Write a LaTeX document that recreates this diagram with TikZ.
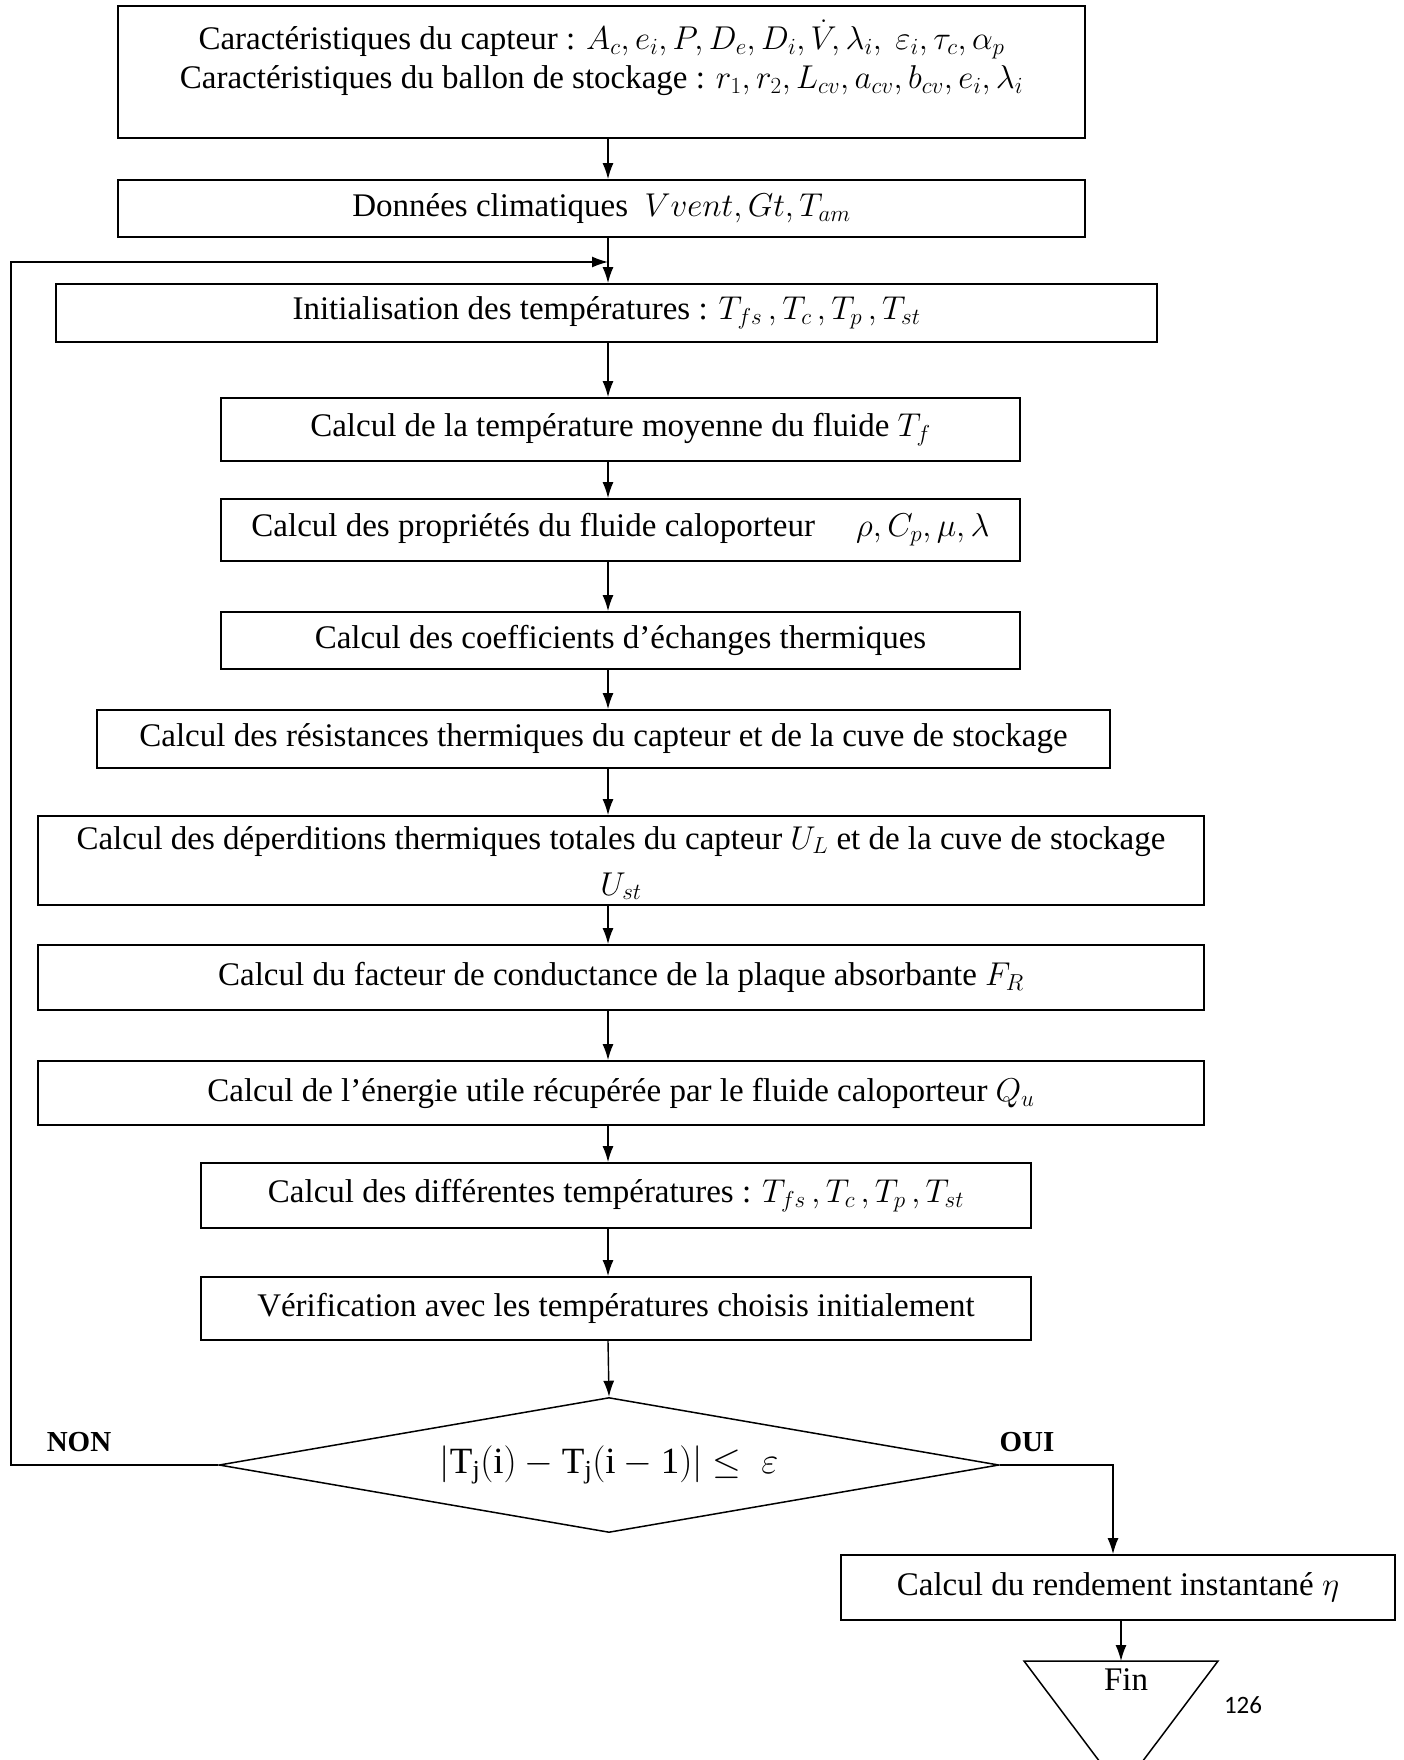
\documentclass[tikz,border=0pt]{standalone}
\usepackage{fix-cm}
\usepackage{fontspec}
\setmainfont{Liberation Serif}
\newfontfamily\pagenumfont{Carlito}
\usetikzlibrary{arrows.meta,shapes.geometric}
\newcommand\myfs{\fontsize{33}{39}\selectfont}
\newcommand\mylblfs{\fontsize{29}{36}\selectfont}
\begin{document}
\begin{tikzpicture}[x=1pt,y=-1pt,
  box/.style={draw, line width=1.8pt, inner sep=0pt, align=center, font=\myfs},
  txt/.style={inner sep=0pt, align=center, font=\myfs},
  arr/.style={-{Latex[length=16pt,width=11pt]}, line width=1.4pt},
  lbl/.style={font=\mylblfs\bfseries, inner sep=0pt}]
\useasboundingbox (0,0) rectangle (1403,1760);
\coordinate (ax) at (608,0);
% boxes
\node[box, minimum width=967, minimum height=132] (b1) at (601.5,72) {};
\node[txt] (b1t) at (601.5,58)
  {Caractéristiques du capteur : $A_c, e_i, P, D_e, D_i, \dot{V}\!, \lambda_i,\ \varepsilon_i, \tau_c, \alpha_p$\\
   Caractéristiques du ballon de stockage : $r_1, r_2, L_{cv}, a_{cv}, b_{cv}, e_i, \lambda_i$};
\node[box, minimum width=967, minimum height=57] (b2) at (601.5,208.5)
  {Données climatiques \ $Vvent, Gt, T_{am}$};
\node[box, minimum width=1101, minimum height=58] (b3) at (606.5,313)
  {Initialisation des températures : $T_{fs}\,, T_c\,, T_p\,, T_{st}$};
\node[box, minimum width=799, minimum height=63] (b4) at (620.5,429.5)
  {Calcul de la température moyenne du fluide $T_f$};
\node[box, minimum width=799, minimum height=62] (b5) at (620.5,530)
  {Calcul des propriétés du fluide caloporteur \quad$\rho, C_p, \mu, \lambda$};
\node[box, minimum width=799, minimum height=57] (b6) at (620.5,640.5)
  {Calcul des coefficients d’échanges thermiques};
\node[box, minimum width=1013, minimum height=58] (b7) at (603.5,739)
  {Calcul des résistances thermiques du capteur et de la cuve de stockage};
\node[box, minimum width=1166, minimum height=89] (b8) at (621,860.5) {};
\node[txt] (b8t) at (621,863)
  {Calcul des déperditions thermiques totales du capteur $U_L$ et de la cuve de stockage\\[7pt] $U_{st}$};
\node[box, minimum width=1166, minimum height=65] (b9) at (621,977.5)
  {Calcul du facteur de conductance de la plaque absorbante $F_R$};
\node[box, minimum width=1166, minimum height=64] (b10) at (621,1093)
  {Calcul de l’énergie utile récupérée par le fluide caloporteur $Q_u$};
\node[box, minimum width=830, minimum height=65] (b11) at (616,1195.5)
  {Calcul des différentes températures : $T_{fs}\,, T_c\,, T_p\,, T_{st}$};
\node[box, minimum width=830, minimum height=63] (b12) at (616,1308.5)
  {Vérification avec les températures choisis initialement};
\node[draw, diamond, line width=1.5pt, inner sep=0pt, aspect=5.8,
      minimum width=780, minimum height=135, font=\fontsize{37}{44}\selectfont] (dia) at (609,1465)
  {$\bigl|\mathrm{T_j(i)} - \mathrm{T_j(i-1)}\bigr| \leq\ \mathrm{\varepsilon}$};
\node[box, minimum width=554, minimum height=65] (b13) at (1118,1587.5)
  {Calcul du rendement instantané $\eta$};
% end triangle
\coordinate (t1) at (1024,1661);
\coordinate (t2) at (1218,1661);
\coordinate (t3) at (1121,1790);
\draw[line width=1.5pt] (t1) -- (t2) -- (t3) -- cycle;
\node[font=\myfs, inner sep=0pt] (fin) at (1126,1680) {Fin};
\node[font=\pagenumfont\fontsize{25}{30}\selectfont, inner sep=0pt] (pg) at (1243,1705) {126};
% labels
\node[lbl] (non) at (79,1442) {NON};
\node[lbl] (oui) at (1027,1442) {OUI};
% connectors
\draw[arr] (b1.south -| ax) -- (b2.north -| ax);
\draw[arr] (b2.south -| ax) -- (b3.north -| ax);
\draw[arr] (b3.south -| ax) -- (b4.north -| ax);
\draw[arr] (b4.south -| ax) -- (b5.north -| ax);
\draw[arr] (b5.south -| ax) -- (b6.north -| ax);
\draw[arr] (b6.south -| ax) -- (b7.north -| ax);
\draw[arr] (b7.south -| ax) -- (b8.north -| ax);
\draw[arr] (b8.south -| ax) -- (b9.north -| ax);
\draw[arr] (b9.south -| ax) -- (b10.north -| ax);
\draw[arr] (b10.south -| ax) -- (b11.north -| ax);
\draw[arr] (b11.south -| ax) -- (b12.north -| ax);
\draw[arr] (b12.south -| ax) -- (dia.north);
% loop back (NON)
\coordinate (lb) at (11,1465);
\coordinate (lt) at (11,262);
\coordinate (jn) at (608,262);
\draw[arr] (dia.west) -- (lb) -- (lt) -- (jn);
% OUI
\coordinate (oc) at (1113,1465);
\draw[arr] (dia.east) -- (oc) -- (oc |- b13.north);
\draw[arr] (b13.south -| t3) -- (t3 |- t1);
\end{tikzpicture}
\end{document}
